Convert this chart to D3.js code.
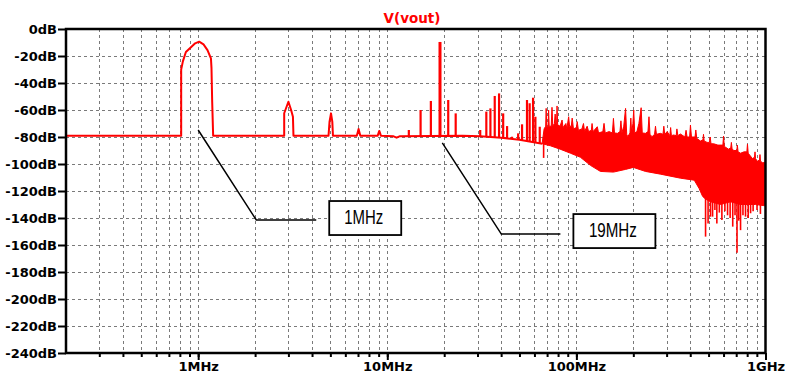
<!DOCTYPE html>
<html><head><meta charset="utf-8">
<script src="https://cdn.jsdelivr.net/npm/d3@7"></script>
<style>body{margin:0;background:#fff}svg{display:block}</style>
</head><body>
<svg id="chart" width="791" height="379"></svg>
<script>
// ---------- data (frequency in MHz, level in dB) ----------
const title = "V(vout)";
const yTickValues = [0,-20,-40,-60,-80,-100,-120,-140,-160,-180,-200,-220,-240];
const xMajorTicks = [1, 10, 100, 1000];
const xMajorLabels = ["1MHz","10MHz","100MHz","1GHz"];

// base trace: noise floor with 1MHz, 3MHz, 5MHz, 7MHz, 9MHz products
const baseTrace = [
  [0.2,-79],[0.813,-79],[0.813,-30],[0.83,-24],[0.861,-17],[0.907,-14],[0.964,-10.6],
  [1.012,-9.4],[1.067,-11.4],[1.12,-15.6],[1.168,-21.7],[1.176,-29],[1.186,-54],[1.2,-79],
  [2.85,-79],[2.85,-62.4],[3.0,-53.9],[3.1,-60],[3.17,-65],[3.19,-79],
  [4.89,-79],[4.95,-68.6],[5.04,-62.5],[5.12,-68.6],[5.16,-79],
  [6.9,-79],[7.05,-74],[7.2,-79],[8.9,-79],[9.07,-75.5],[9.25,-79],
  [10.8,-79.5],[11.2,-80.5],[11.6,-79.5],[25,-79],[31,-79.5],[40,-80.5],[50,-82],[66,-85]
];

// discrete spikes above the floor (pilot 19MHz and mixing products)
const spikeMHz = [13,15,17,19,21,23,31,33.4,35.1,37,39,41,43,45.7,49.2,51.6,54.8,56.6,59,60.7,64];
const spikeDb  = [-74.8,-60,-53.3,-9.6,-52.6,-62.5,-74.8,-61.2,-58.8,-49.6,-47.7,-62.5,-71.9,-79.8,-77.3,-70.6,-52.6,-55,-50.9,-65,-72.4];

// dense noise band: upper and lower envelopes
const noiseUpper = [
  [66,-84],[67.5,-74],[68.8,-72],[69.2,-58.8],[69.7,-72],[70.8,-73],[71.3,-60],[71.8,-72],
  [73.6,-72],[74.3,-58],[75,-72],[76.5,-70],[77.2,-63],[78,-70],[78.6,-70],[79,-57],[79.6,-71],
  [82,-72],[84,-67.4],[85,-73],[88,-70],[89,-74],[91,-65],[92,-72],[94,-72],[95,-66],[96.5,-74],
  [100,-73],[101,-68.6],[102.5,-75],[107,-74],[109,-70],[110.5,-76],[114,-72],[116,-76],[120,-75],
  [121,-70],[122.5,-76],[129,-72.4],[131,-77],[138,-76],[140,-69.9],[142,-77],[149,-76],[155,-77],
  [157,-66.2],[159,-77],[165,-77.3],[170,-76],[172,-68],[174,-77],[178,-72],[182,-58.8],[184.5,-78],
  [187,-79.8],[192,-77],[194,-66],[196,-77],[199,-70],[201,-60],[203.5,-77],[209,-76],[214,-70],
  [220,-58.3],[223,-77],[232,-77.3],[239,-76],[242,-65],[245,-78],[251,-79.8],[259,-78],[262,-72],
  [265,-78],[278,-77.3],[287,-78],[290,-72],[293,-78],[302,-76],[312,-79],[315,-73],[318,-79],
  [327,-78.5],[337,-79],[340,-74],[344,-79],[355,-77.8],[375,-80],[380,-75],[385,-80],[397,-80],
  [401,-71.1],[406,-80],[424,-80],[428,-74.8],[433,-81],[453,-83],[467,-82],[470,-78],[474,-83],
  [491,-84],[505,-84],[510,-80],[515,-85],[532,-85],[560,-86],[595,-86],[600,-79.3],[606,-87],
  [637,-89],[655,-88],[660,-84],[666,-89],[681,-90],[705,-90],[710,-86],[716,-91],[738,-92],
  [770,-91],[797,-91],[803,-85.2],[810,-92],[853,-96],[875,-95],[880,-91],[886,-96],[905,-98],
  [930,-97],[935,-93],[941,-98],[965,-99],[994,-99],[1000,-89.6]
];
const noiseLower = [
  [66,-85],[72.8,-86.5],[82,-89],[93,-92],[105,-95],[118.6,-101],[134,-105.5],[157,-106],
  [182,-104],[200,-102.5],[232,-105.5],[278,-107.5],[355,-110.5],[420,-112],[445,-118],
  [465,-124],[482,-126],[512,-128],[578,-130],[653,-128],[738,-130],[886,-130],[1000,-131]
];
// downward spikes below the noise band
const dipMHz = [67.1,482,497,512,525,540,553,570,588,610,630,650,671,690,707,722,738,760,784,810,834,860,902,940];
const dipDb  = [-95.5,-153.8,-144,-139,-139,-134,-144,-136,-141.5,-135,-138,-140,-146.4,-138,-165.7,-142,-149,-138,-139,-140,-136.5,-135,-134,-137];

// annotations: pointer, elbow, end of horizontal leg (MHz, dB)
const noteLabels = ["1MHz","19MHz"];
const notePointer = [[1.0,-74.8],[19.54,-84.4]];
const noteElbow = [[2.03,-141.5],[40.1,-151.9]];
const noteEnd = [[4.21,-141.5],[82.3,-151.9]];

// ---------- drawing ----------
const svg = d3.select("#chart");
const L = 66, R = 765.5, T = 29, B = 353;
const x = d3.scaleLog().domain([0.2, 1000]).range([L, R]);
const y = d3.scaleLinear().domain([-240, 0]).range([B, T]);
const RED = "#ff0000";
const font = "'DejaVu Sans', Verdana, sans-serif";

// grid
const minorTicks = x.ticks().filter(v => v > 0.2 * 1.0001 && v < 1000 * 0.9999);
const grid = svg.append("g").attr("stroke", "#7a7a7a").attr("stroke-width", 1).attr("stroke-dasharray", "3,3");
grid.selectAll("line.v").data(minorTicks).join("line")
  .attr("x1", d => Math.round(x(d)) + 0.5).attr("x2", d => Math.round(x(d)) + 0.5)
  .attr("y1", T).attr("y2", B);
grid.selectAll("line.h").data(yTickValues.filter(v => v < 0 && v > -240)).join("line")
  .attr("x1", L).attr("x2", R)
  .attr("y1", d => Math.round(y(d)) + 0.5).attr("y2", d => Math.round(y(d)) + 0.5);

// noise band
const lineGen = d3.line().x(d => x(d[0])).y(d => y(d[1]));
const band = noiseUpper.concat(noiseLower.slice().reverse());
svg.append("path").attr("d", lineGen(band) + "Z").attr("fill", RED).attr("stroke", RED).attr("stroke-width", 1);

// base trace
svg.append("path").attr("d", lineGen(baseTrace)).attr("fill", "none")
  .attr("stroke", RED).attr("stroke-width", 2).attr("stroke-linejoin", "round");

// floor level at a frequency (log-linear on the base trace tail)
function floorAt(f) {
  const pts = baseTrace.filter(p => p[0] >= 11.6);
  for (let i = 0; i < pts.length - 1; i++) {
    const a = pts[i], b = pts[i + 1];
    if (f >= a[0] && f <= b[0]) {
      const t = (Math.log(f) - Math.log(a[0])) / (Math.log(b[0]) - Math.log(a[0]));
      return a[1] + t * (b[1] - a[1]);
    }
  }
  return -79;
}
svg.append("g").selectAll("line").data(spikeMHz).join("line")
  .attr("x1", d => x(d)).attr("x2", d => x(d))
  .attr("y1", d => y(floorAt(d))).attr("y2", (d, i) => y(spikeDb[i]))
  .attr("stroke", RED).attr("stroke-width", (d) => d === 19 ? 3 : 2.2);
svg.append("g").selectAll("line").data(dipMHz).join("line")
  .attr("x1", d => x(d)).attr("x2", d => x(d))
  .attr("y1", d => d < 100 ? y(-84) : y(-124)).attr("y2", (d, i) => y(dipDb[i]))
  .attr("stroke", RED).attr("stroke-width", 1.6);

// frame
svg.append("rect").attr("x", L).attr("y", T).attr("width", R - L).attr("height", B - T)
  .attr("fill", "none").attr("stroke", "#000").attr("stroke-width", 2.5);

// axes
const yAxis = d3.axisLeft(y).tickValues(yTickValues).tickSize(8).tickPadding(1).tickFormat(d => d + "dB");
const gy = svg.append("g").attr("transform", `translate(${L},0)`).call(yAxis);
const xMinor = d3.axisBottom(x).tickValues(minorTicks).tickSize(4).tickFormat("");
const gxm = svg.append("g").attr("transform", `translate(0,${B})`).call(xMinor);
const xMajor = d3.axisBottom(x).tickValues(xMajorTicks).tickSize(7).tickPadding(2)
  .tickFormat((d, i) => xMajorLabels[i]);
const gx = svg.append("g").attr("transform", `translate(0,${B})`).call(xMajor);
[gy, gxm, gx].forEach(g => {
  g.select(".domain").remove();
  g.selectAll(".tick line").attr("stroke", "#000").attr("stroke-width", 2);
  g.selectAll(".tick text").attr("fill", "#000").attr("font-family", font)
    .attr("font-weight", "bold").attr("font-size", "13px");
});

// title
svg.append("text").attr("x", 412).attr("y", 23).attr("text-anchor", "middle")
  .attr("font-family", font).attr("font-weight", "bold").attr("font-size", "13.5px")
  .attr("fill", RED).text(title);

// annotations
const boxW = [72, 82], boxH = 34, boxGap = 13, boxRise = [19, 20];
const textLen = [39, 48];
noteLabels.forEach((lab, i) => {
  const p = notePointer[i], e = noteElbow[i], n = noteEnd[i];
  svg.append("path")
    .attr("d", lineGen([p, e, n]))
    .attr("fill", "none").attr("stroke", "#000").attr("stroke-width", 1.5);
  const bx = x(n[0]) + boxGap, by = y(e[1]) - boxRise[i];
  svg.append("rect").attr("x", bx).attr("y", by).attr("width", boxW[i]).attr("height", boxH)
    .attr("fill", "#fff").attr("stroke", "#000").attr("stroke-width", 1.8);
  svg.append("text").attr("x", bx + boxW[i] / 2 - 1.5).attr("y", by + 22.5)
    .attr("text-anchor", "middle").attr("font-family", "'Liberation Sans', Arial, sans-serif")
    .attr("font-size", "21px").attr("textLength", textLen[i]).attr("lengthAdjust", "spacingAndGlyphs")
    .attr("fill", "#000").text(lab);
});
</script>
</body></html>
